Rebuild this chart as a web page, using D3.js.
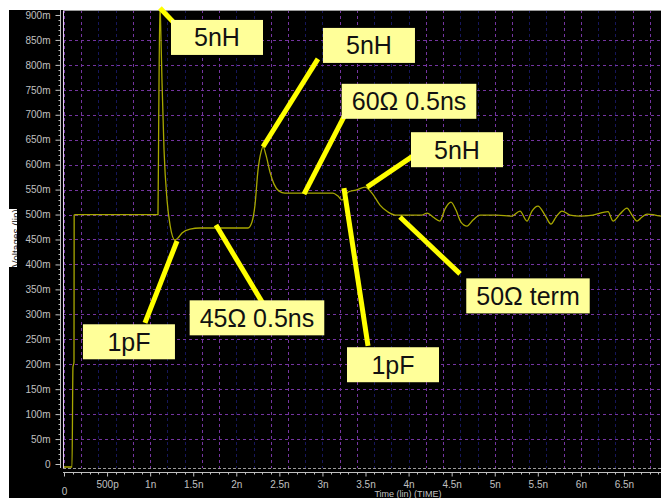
<!DOCTYPE html>
<head>
  <meta charset="utf-8" />
  <style>
    html, body { margin: 0; padding: 0; background: #fff; overflow: hidden; }
  </style>
</head>
<div id="div_template"></div>
<script src="https://d3js.org/d3.v7.min.js"></script>
<script>
  // waveform, time in ns, voltage in mV
  const timeNs = [
    0, 0.093, 0.104, 0.116, 0.118, 0.128, 1.091, 1.10, 1.114, 1.126, 1.138, 1.161,
    1.196, 1.231, 1.288, 1.323, 1.37, 1.463, 1.579, 2.136, 2.182, 2.217, 2.252,
    2.287, 2.31, 2.345, 2.391, 2.438, 2.496, 2.565, 3.122, 3.18, 3.227, 3.262,
    3.297, 3.389, 3.494, 3.575, 3.668, 3.761, 3.842, 4.156, 4.214, 4.283, 4.364,
    4.422, 4.492, 4.55, 4.608, 4.678, 4.748, 4.829, 5.026, 5.2, 5.293, 5.374,
    5.432, 5.502, 5.583, 5.653, 5.711, 5.781, 5.874, 5.99, 6.14, 6.315, 6.373,
    6.454, 6.535, 6.593, 6.652, 6.71, 6.768, 6.861, 6.93,
  ];
  const voltageMv = [
    -6, -6, 194, 204, 499, 500, 500, 700, 925, 850, 764, 630,
    529, 479, 449, 453, 463, 471, 473, 473, 485, 519, 589,
    625, 636, 619, 585, 561, 547, 543, 543, 537, 529, 537,
    545, 549, 555, 543, 519, 505, 499, 499, 503, 495, 487,
    511, 525, 509, 485, 477, 489, 499, 499, 497, 507, 487,
    507, 517, 499, 481, 495, 507, 499, 497, 499, 506, 487,
    501, 513, 499, 487, 495, 501, 499, 497,
  ];

  const yTickValues = [0, 50, 100, 150, 200, 250, 300, 350, 400, 450, 500, 550, 600, 650, 700, 750, 800, 850, 900];
  const yTickLabels = ['0', '50m', '100m', '150m', '200m', '250m', '300m', '350m', '400m', '450m', '500m', '550m', '600m', '650m', '700m', '750m', '800m', '850m', '900m'];
  const xTickValues = [0, 0.5, 1, 1.5, 2, 2.5, 3, 3.5, 4, 4.5, 5, 5.5, 6, 6.5];
  const xTickLabels = ['0', '500p', '1n', '1.5n', '2n', '2.5n', '3n', '3.5n', '4n', '4.5n', '5n', '5.5n', '6n', '6.5n'];
  const purpleGridNs = [0, 0.2, 0.8, 1.0, 1.6, 1.8, 2.4, 2.6, 3.2, 3.4, 4.2, 4.4, 5.0, 5.2, 5.8, 6.0, 6.6, 6.8];

  // callouts: text, tip of leader [ns, mV], tail of leader, box centre
  const noteTexts = ['5nH', '5nH', '60Ω 0.5ns', '5nH', '1pF', '45Ω 0.5ns', '1pF', '50Ω term'];
  const noteTips = [[1.114, 914], [2.31, 636], [2.786, 541], [3.517, 555], [1.312, 447], [1.764, 479], [3.25, 553], [3.9, 495]];
  const noteTails = [[1.312, 878], [2.948, 812], [3.273, 704], [4.109, 624], [0.94, 283], [2.333, 315], [3.529, 237], [4.597, 381]];
  const noteBoxes = [[1.776, 855], [3.54, 839], [4.005, 727], [4.562, 630], [0.754, 245], [2.24, 293], [3.819, 199], [5.386, 337]];

  var width = 661,
    height = 498;
  var svg = d3
    .select('#div_template')
    .append('svg')
    .attr('width', width)
    .attr('height', height)
    .style('display', 'block');

  var plot = { left: 63, top: 10, right: 661, bottom: 468 };

  var xScale = d3.scaleLinear().domain([0, 6.93]).range([64, 661]);
  var yScale = d3.scaleLinear().domain([-8, 910]).range([468, 10]);

  // background
  svg.append('rect').attr('width', width).attr('height', height).attr('fill', '#fff');
  svg.append('rect')
    .attr('x', 9).attr('y', 10)
    .attr('width', width - 9).attr('height', height - 10)
    .attr('fill', '#000');

  svg.append('defs')
    .append('clipPath')
    .attr('id', 'plotClip')
    .append('rect')
    .attr('x', plot.left).attr('y', plot.top)
    .attr('width', plot.right - plot.left).attr('height', plot.bottom - plot.top);

  var grid = svg.append('g').attr('clip-path', 'url(#plotClip)');

  // vertical grid every 0.2ns
  var vGrid = d3.range(0, 35).map((i) => +(i * 0.2).toFixed(1));
  grid.selectAll('.vgrid')
    .data(vGrid)
    .enter()
    .append('line')
    .attr('x1', (d) => Math.round(xScale(d)) + 0.5)
    .attr('x2', (d) => Math.round(xScale(d)) + 0.5)
    .attr('y1', plot.top)
    .attr('y2', plot.bottom)
    .attr('stroke', (d) => (purpleGridNs.some((p) => Math.abs(p - d) < 0.01) ? '#7434a0' : '#16165a'))
    .attr('stroke-dasharray', '3,3');

  // horizontal grid every 50m
  grid.selectAll('.hgrid')
    .data(yTickValues.filter((v) => v > 0 && v < 900))
    .enter()
    .append('line')
    .attr('x1', plot.left)
    .attr('x2', plot.right)
    .attr('y1', (d) => Math.round(yScale(d)) + 0.5)
    .attr('y2', (d) => Math.round(yScale(d)) + 0.5)
    .attr('stroke', '#7434a0')
    .attr('stroke-dasharray', '3,3');

  // plot frame
  svg.append('line')
    .attr('x1', plot.left + 0.5).attr('x2', plot.left + 0.5)
    .attr('y1', plot.top).attr('y2', plot.bottom)
    .attr('stroke', '#e0d0ea');
  svg.append('line')
    .attr('x1', plot.left).attr('x2', plot.right)
    .attr('y1', plot.top + 0.5).attr('y2', plot.top + 0.5)
    .attr('stroke', '#9a9a9a');
  svg.append('line')
    .attr('x1', plot.left).attr('x2', plot.right)
    .attr('y1', plot.bottom + 0.5).attr('y2', plot.bottom + 0.5)
    .attr('stroke', '#9a9a9a')
    .attr('stroke-dasharray', '3,2');

  // waveform
  var points = timeNs.map((t, i) => ({ t: t, v: voltageMv[i] }));
  var line = d3
    .line()
    .x((d) => xScale(d.t))
    .y((d) => yScale(d.v))
    .curve(d3.curveMonotoneX);

  svg.append('g')
    .attr('clip-path', 'url(#plotClip)')
    .append('path')
    .attr('d', line(points))
    .attr('fill', 'none')
    .attr('stroke', '#a8a800')
    .attr('stroke-width', 1.3);

  // y axis
  var yAxis = d3
    .axisLeft(yScale)
    .tickValues(yTickValues)
    .tickSize(5)
    .tickFormat((d, i) => yTickLabels[i]);
  var gy = svg.append('g').attr('transform', 'translate(60.5,0)').call(yAxis);
  gy.select('.domain').attr('stroke', '#c0c0c0').attr('d', 'M0,' + plot.top + 'V' + plot.bottom);
  gy.selectAll('.tick line').attr('stroke', '#c0c0c0');
  gy.selectAll('.tick text')
    .attr('x', -10)
    .attr('fill', '#c0c0c0')
    .attr('font-family', 'Liberation Sans, Arial, sans-serif')
    .attr('font-size', '10px');
  gy.selectAll('.minor')
    .data(d3.range(0, 910, 10).filter((v) => v % 50 !== 0))
    .enter()
    .append('line')
    .attr('x1', -2).attr('x2', 0)
    .attr('y1', (d) => Math.round(yScale(d)) + 0.5)
    .attr('y2', (d) => Math.round(yScale(d)) + 0.5)
    .attr('stroke', '#c0c0c0');

  // x axis
  var xAxis = d3
    .axisBottom(xScale)
    .tickValues(xTickValues)
    .tickSize(4)
    .tickFormat((d, i) => xTickLabels[i]);
  var gx = svg.append('g').attr('transform', 'translate(0,472.5)').call(xAxis);
  gx.select('.domain').attr('stroke', '#c0c0c0').attr('d', 'M' + plot.left + ',0H' + plot.right);
  gx.selectAll('.tick line').attr('stroke', '#c0c0c0');
  gx.selectAll('.tick text')
    .attr('y', 8)
    .attr('dy', (d) => (d === 0 ? '1.4em' : '0.71em'))
    .attr('fill', '#c0c0c0')
    .attr('font-family', 'Liberation Sans, Arial, sans-serif')
    .attr('font-size', '10px');
  gx.selectAll('.minor')
    .data(d3.range(0, 70).filter((i) => i % 5 !== 0).map((i) => i / 10))
    .enter()
    .append('line')
    .attr('x1', (d) => Math.round(xScale(d)) + 0.5)
    .attr('x2', (d) => Math.round(xScale(d)) + 0.5)
    .attr('y1', 0).attr('y2', 2)
    .attr('stroke', '#c0c0c0');

  svg.append('text')
    .attr('x', 408)
    .attr('y', 497)
    .attr('text-anchor', 'middle')
    .attr('fill', '#c0c0c0')
    .attr('font-family', 'Liberation Sans, Arial, sans-serif')
    .attr('font-size', '9px')
    .text('Time (lin) (TIME)');

  // y axis title box, mostly cut off
  svg.append('clipPath').attr('id', 'yTitleClip')
    .append('rect').attr('x', 9).attr('y', 209).attr('width', 8).attr('height', 58);
  var yTitle = svg.append('g').attr('clip-path', 'url(#yTitleClip)');
  yTitle.append('rect').attr('x', 9).attr('y', 209).attr('width', 8).attr('height', 58).attr('fill', '#fff');
  yTitle.append('text')
    .attr('transform', 'translate(20,238) rotate(-90)')
    .attr('text-anchor', 'middle')
    .attr('fill', '#222')
    .attr('font-family', 'Liberation Sans, Arial, sans-serif')
    .attr('font-size', '10px')
    .text('Voltages (lin)');

  // callouts
  var notes = noteTexts.map((text, i) => ({
    text: text,
    tip: noteTips[i],
    tail: noteTails[i],
    box: noteBoxes[i],
  }));

  var gNotes = svg.append('g');
  gNotes.selectAll('.leader')
    .data(notes)
    .enter()
    .append('line')
    .attr('x1', (d) => xScale(d.tip[0]))
    .attr('y1', (d) => yScale(d.tip[1]))
    .attr('x2', (d) => xScale(d.tail[0]))
    .attr('y2', (d) => yScale(d.tail[1]))
    .attr('stroke', '#ffff00')
    .attr('stroke-width', 5);

  var boxG = gNotes.selectAll('.note')
    .data(notes)
    .enter()
    .append('g')
    .attr('transform', (d) => 'translate(' + xScale(d.box[0]) + ',' + yScale(d.box[1]) + ')');

  boxG.append('text')
    .attr('text-anchor', 'middle')
    .attr('dy', '0.36em')
    .attr('fill', '#111')
    .attr('font-family', 'Liberation Sans, Arial, sans-serif')
    .attr('font-size', '25px')
    .text((d) => d.text);

  boxG.insert('rect', 'text')
    .each(function () {
      var w = d3.select(this.parentNode).select('text').node().getComputedTextLength();
      var bw = Math.max(92, w + 20);
      d3.select(this)
        .attr('x', -bw / 2)
        .attr('y', -17.5)
        .attr('width', bw)
        .attr('height', 35);
    })
    .attr('fill', '#ffff99');
</script>
